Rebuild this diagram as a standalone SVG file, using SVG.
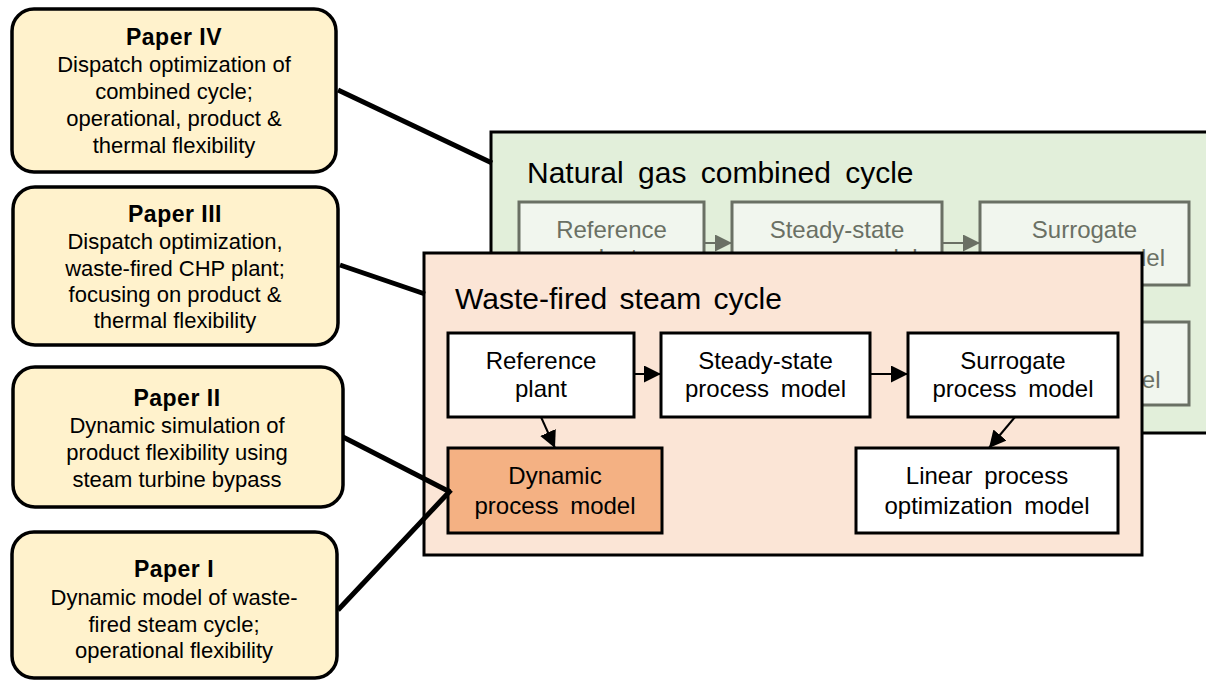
<svg xmlns="http://www.w3.org/2000/svg" width="1206" height="680" viewBox="0 0 1206 680">
  <defs>
    <marker id="ah" markerUnits="userSpaceOnUse" markerWidth="17" markerHeight="17" refX="17" refY="8.5" orient="auto">
      <path d="M0,0 L17,8.5 L0,17 z" fill="#000"/>
    </marker>
    <marker id="ahg" markerUnits="userSpaceOnUse" markerWidth="17" markerHeight="17" refX="17" refY="8.5" orient="auto">
      <path d="M0,0 L17,8.5 L0,17 z" fill="#6A7064"/>
    </marker>
    <clipPath id="behindWaste">
      <path clip-rule="evenodd" d="M0,0 H1206 V680 H0 Z M424,253 H1142 V555 H424 Z"/>
    </clipPath>
  </defs>
  <style>
    text { font-family: "Liberation Sans", Arial, sans-serif; }
    .paper { fill: #FFF2CC; stroke: #000; stroke-width: 3.5; }
    .pt { font-size: 22px; text-anchor: middle; fill: #000; }
    .ptb { font-size: 23px; font-weight: bold; text-anchor: middle; fill: #000; letter-spacing: 0.5px; }
    .panel { stroke: #000; stroke-width: 3; }
    .title { font-size: 30px; fill: #000; }
    .box { fill: #FFFFFF; stroke: #000; stroke-width: 3; }
    .gbox { fill: #F1F6EE; stroke: #6A7064; stroke-width: 3; }
    .bt { font-size: 24px; text-anchor: middle; fill: #000; word-spacing: 5px; }
    .gt { font-size: 24px; text-anchor: middle; fill: #6A7064; word-spacing: 5px; }
    .arr { stroke: #000; stroke-width: 2; fill: none; marker-end: url(#ah); }
    .garr { stroke: #6A7064; stroke-width: 2; fill: none; marker-end: url(#ahg); }
    .link { stroke: #000; stroke-width: 5; fill: none; }
  </style>

  <!-- Natural gas combined cycle panel -->
  <g id="ngcc-panel">
    <rect class="panel" x="491" y="132" width="760" height="301" fill="#E2EFDA"/>
    <text class="title" x="527" y="183" style="word-spacing:6px">Natural gas combined cycle</text>
  </g>
  <g clip-path="url(#behindWaste)">
    <g id="ngcc-reference">
      <rect class="gbox" x="519" y="202" width="185" height="83"/>
      <text class="gt" x="611.5" y="238">Reference</text>
      <text class="gt" x="611.5" y="266">plant</text>
    </g>
    <g id="ngcc-steady">
      <rect class="gbox" x="732" y="202" width="210" height="83"/>
      <text class="gt" x="837" y="238">Steady-state</text>
      <text class="gt" x="837" y="266">process model</text>
    </g>
    <g id="ngcc-surrogate">
      <rect class="gbox" x="980" y="202" width="209" height="83"/>
      <text class="gt" x="1084.5" y="238">Surrogate</text>
      <text class="gt" x="1084.5" y="266">process model</text>
    </g>
    <g id="ngcc-linear">
      <rect class="gbox" x="927" y="322" width="262" height="83"/>
      <text class="gt" x="1058" y="388">optimization model</text>
    </g>
    <g id="ngcc-connectors">
      <line class="garr" x1="704" y1="243" x2="732" y2="243"/>
      <line class="garr" x1="942" y1="243" x2="980" y2="243"/>
    </g>
  </g>

  <!-- Waste-fired steam cycle panel -->
  <g id="waste-panel">
    <rect class="panel" x="424" y="253" width="718" height="302" fill="#FBE5D6"/>
    <text class="title" x="455" y="309" style="word-spacing:4px">Waste-fired steam cycle</text>
  </g>
  <g id="waste-reference">
    <rect class="box" x="448" y="333" width="186" height="84"/>
    <text class="bt" x="541" y="369">Reference</text>
    <text class="bt" x="541" y="397">plant</text>
  </g>
  <g id="waste-steady">
    <rect class="box" x="661" y="333" width="209" height="84"/>
    <text class="bt" x="765.5" y="369">Steady-state</text>
    <text class="bt" x="765.5" y="397">process model</text>
  </g>
  <g id="waste-surrogate">
    <rect class="box" x="908" y="333" width="210" height="84"/>
    <text class="bt" x="1013" y="369">Surrogate</text>
    <text class="bt" x="1013" y="397">process model</text>
  </g>
  <g id="waste-dynamic">
    <rect class="box" x="448" y="448" width="214" height="85" style="fill:#F4B183"/>
    <text class="bt" x="555" y="484">Dynamic</text>
    <text class="bt" x="555" y="514">process model</text>
  </g>
  <g id="waste-linear">
    <rect class="box" x="856" y="448" width="262" height="85"/>
    <text class="bt" x="987" y="484">Linear process</text>
    <text class="bt" x="987" y="514">optimization model</text>
  </g>
  <g id="waste-connectors">
    <line class="arr" x1="634" y1="374" x2="661" y2="374"/>
    <line class="arr" x1="870" y1="374" x2="908" y2="374"/>
    <line class="arr" x1="541" y1="417" x2="555" y2="448"/>
    <line class="arr" x1="1015" y1="417" x2="989" y2="448"/>
  </g>

  <!-- Papers -->
  <g id="paper4">
    <rect class="paper" x="12" y="9" width="324" height="163" rx="22"/>
    <text class="ptb" x="174" y="45">Paper IV</text>
    <text class="pt" x="174" y="72">Dispatch optimization of</text>
    <text class="pt" x="174" y="99">combined cycle;</text>
    <text class="pt" x="174" y="126">operational, product &amp;</text>
    <text class="pt" x="174" y="153">thermal flexibility</text>
  </g>
  <g id="paper3">
    <rect class="paper" x="13" y="187" width="325" height="158" rx="22"/>
    <text class="ptb" x="175" y="222">Paper III</text>
    <text class="pt" x="175" y="249">Dispatch optimization,</text>
    <text class="pt" x="175" y="276">waste-fired CHP plant;</text>
    <text class="pt" x="175" y="302">focusing on product &amp;</text>
    <text class="pt" x="175" y="328">thermal flexibility</text>
  </g>
  <g id="paper2">
    <rect class="paper" x="13" y="367" width="330" height="140" rx="22"/>
    <text class="ptb" x="177" y="406">Paper II</text>
    <text class="pt" x="177" y="433">Dynamic simulation of</text>
    <text class="pt" x="177" y="460">product flexibility using</text>
    <text class="pt" x="177" y="487">steam turbine bypass</text>
  </g>
  <g id="paper1">
    <rect class="paper" x="12" y="532" width="325" height="146" rx="22"/>
    <text class="ptb" x="174" y="577">Paper I</text>
    <text class="pt" x="174" y="605">Dynamic model of waste-</text>
    <text class="pt" x="174" y="632">fired steam cycle;</text>
    <text class="pt" x="174" y="658">operational flexibility</text>
  </g>

  <!-- Paper links -->
  <g id="paper-links">
    <line class="link" x1="338" y1="90" x2="492" y2="163"/>
    <line class="link" x1="340" y1="265" x2="425" y2="294"/>
    <line class="link" x1="343" y1="437" x2="450" y2="492"/>
    <line class="link" x1="338" y1="610" x2="451" y2="490"/>
  </g>
</svg>
